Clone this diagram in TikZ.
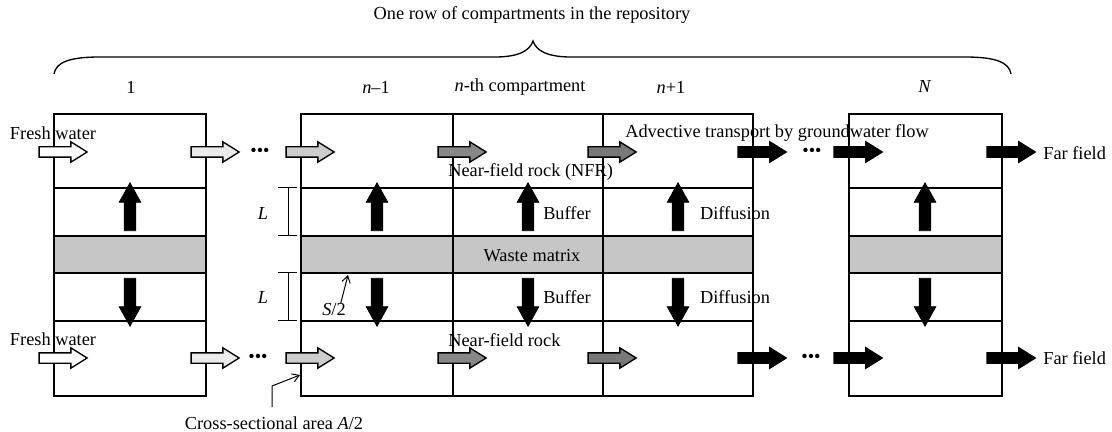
\documentclass[tikz,border=0pt]{standalone}
\usepackage{fontspec}
\setmainfont{Liberation Serif}
\usetikzlibrary{shapes.arrows, arrows.meta}
\definecolor{wastegray}{RGB}{198, 198, 198}
\definecolor{flowa}{RGB}{235, 235, 235}
\definecolor{flowb}{RGB}{205, 205, 205}
\definecolor{flowc}{RGB}{135, 135, 135}
\definecolor{flowd}{RGB}{120, 120, 120}

\begin{document}
\begin{tikzpicture}[x=0.6pt, y=-0.6pt, font=\fontsize{11}{13}\selectfont,
  wall/.style={line width=0.9pt},
  lbl/.style={inner sep=0pt},
  flowarrow/.style={single arrow, draw, line width=0.8pt, inner sep=0pt, inner ysep=2.7pt,
    single arrow head extend=3pt, single arrow tip angle=64, minimum height=28.8pt},
  diffarrow/.style={single arrow, draw, fill=black, inner sep=0pt, inner ysep=3.3pt,
    single arrow head extend=3pt, single arrow tip angle=58, minimum height=28.8pt},
  pointer/.style={line width=0.6pt, -{Straight Barb[length=4pt, width=5pt]}}]
  \useasboundingbox (0,0) rectangle (1112,432);

  % Brace over the row
  \node[lbl] (title) at (532,15) {One row of compartments in the repository};
  \draw[line width=0.8pt] (54,74) .. controls (56,62) and (70,57) .. (100,57) -- (495,57)
    .. controls (520,57) and (530,50) .. (533,41) .. controls (536,50) and (546,57) .. (571,57)
    -- (965,57) .. controls (995,57) and (1009,62) .. (1011,74);

  % Compartment numbers
  \node[lbl] (lab1) at (131,87) {1};
  \node[lbl] (labnm) at (376,87) {\textit{n}–1};
  \node[lbl] (labn) at (520,87) {\textit{n}-th compartment};
  \node[lbl] (labnp) at (671,87) {\textit{n}+1};
  \node[lbl] (labN) at (925,87) {\textit{N}};

  % Compartments
  \foreach \xa/\xb in {54/206, 301/753, 849/1002} {
    \fill[wastegray] (\xa,236) rectangle (\xb,273);
    \draw[wall] (\xa,114) rectangle (\xb,396);
    \foreach \yy in {188,236,273,321}
      \draw[wall] (\xa,\yy) -- (\xb,\yy);
  }
  \draw[wall] (453,114) -- (453,396);
  \draw[wall] (603,114) -- (603,396);

  % Advective flow arrows
  \foreach \xx/\col/\nm in {54/white/a, 206/flowa/b, 301/flowb/c, 453/flowc/d,
                            603/flowd/e, 753/black/f, 849/black/g, 1002/black/h} {
    \node[flowarrow, fill=\col] (top\nm) at (\xx+5,152) {};
    \node[flowarrow, fill=\col] (bot\nm) at (\xx+5,358) {};
  }
  \node[lbl] (dotstl) at (260,152) {•••};
  \node[lbl] (dotstr) at (812,152) {•••};
  \node[lbl] (dotsbl) at (258,358) {•••};
  \node[lbl] (dotsbr) at (811,358) {•••};

  % Diffusion arrows
  \foreach \xx [count=\i] in {130,377,528,678,925} {
    \node[diffarrow, rotate=90] (up\i) at (\xx,212) {};
    \node[diffarrow, rotate=-90] (down\i) at (\xx,297) {};
  }

  % Labels
  \node[lbl] (freshtop) at (53,133) {Fresh water};
  \node[lbl] (freshbot) at (53,339) {Fresh water};
  \node[lbl] (advect) at (777,133) {Advective transport by groundwater flow};
  \node[lbl, anchor=west] (nfrtop) at (448,172) {Near-field rock (NFR)};
  \node[lbl, anchor=west] (nfrbot) at (448,340) {Near-field rock};
  \node[lbl] (buftop) at (567,213) {Buffer};
  \node[lbl] (bufbot) at (567,297) {Buffer};
  \node[lbl] (difftop) at (735,213) {Diffusion};
  \node[lbl] (diffbot) at (735,297) {Diffusion};
  \node[lbl] (waste) at (532,256) {Waste matrix};
  \node[lbl, anchor=west] (fartop) at (1043,153) {Far field};
  \node[lbl, anchor=west] (farbot) at (1043,358) {Far field};

  % Thickness L
  \node[lbl] (ltop) at (263,214) {\textit{L}};
  \node[lbl] (lbot) at (263,297) {\textit{L}};
  \draw[line width=0.6pt] (278,188) -- (297,188) (288,188) -- (288,236) (278,236) -- (297,236);
  \draw[line width=0.6pt] (278,273) -- (297,273) (288,273) -- (288,321) (278,321) -- (297,321);

  % Surface S/2 and area A/2
  \node[lbl] (slabel) at (334,310) {\textit{S}/2};
  \coordinate (stip) at (348,275);
  \draw[pointer] ([xshift=4pt]slabel.north) -- (stip);
  \node[lbl] (crosslab) at (274,423) {Cross-sectional area \textit{A}/2};
  \coordinate (cbend) at (272,386);
  \coordinate (ctip) at (300,375);
  \draw[pointer] ([shift={(-2,-9)}]crosslab.north) -- (cbend) -- (ctip);
\end{tikzpicture}
\end{document}
